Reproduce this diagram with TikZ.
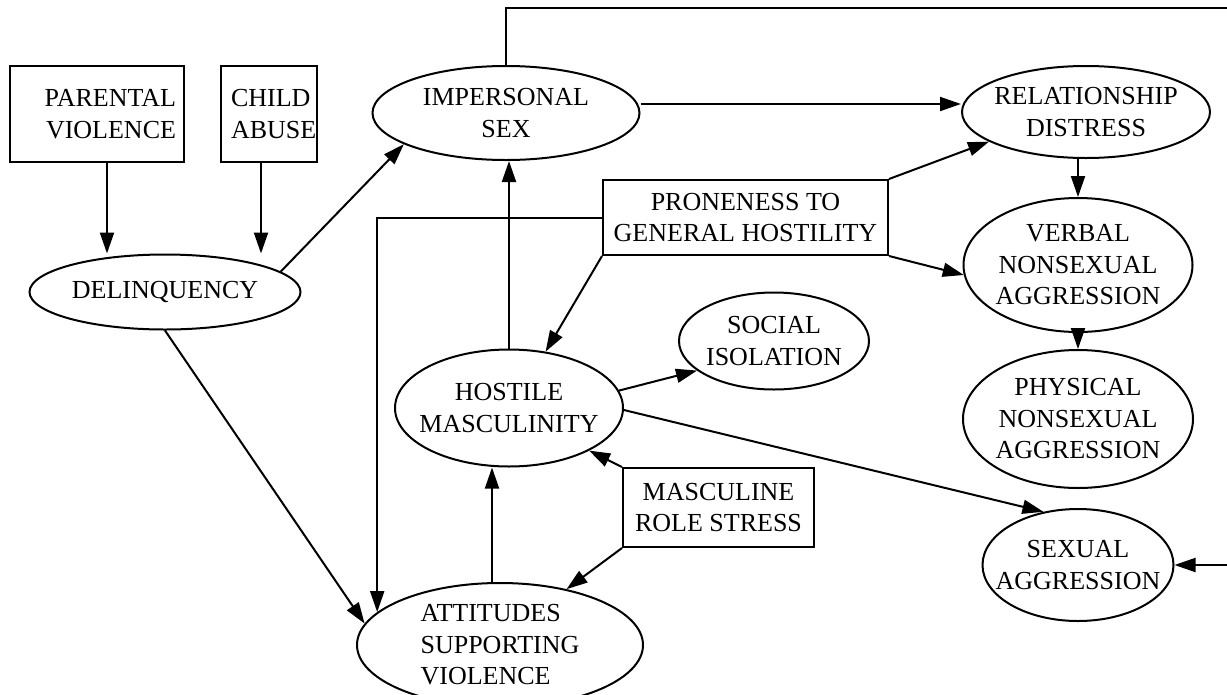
\documentclass[tikz,border=0pt]{standalone}
\usepackage{fontspec}
\setmainfont{Liberation Serif}
\usetikzlibrary{shapes.geometric,arrows.meta}

\begin{document}
\begin{tikzpicture}[x=1pt,y=-1pt,
  every node/.style={font=\fontsize{26}{31.5}\selectfont, line width=2pt},
  box/.style={draw, rectangle, inner sep=4pt, align=center},
  oval/.style={draw, ellipse, inner xsep=-20pt, inner ysep=-10pt, align=center},
  link/.style={draw, line width=2pt, -{Triangle[length=21pt,width=14pt]}}
]
\useasboundingbox[fill=white] (0,0) rectangle (1227,694);

% exogenous measures
\node[box, minimum width=174pt, minimum height=96pt, text width=158pt, inner xsep=8pt, align=right]
  (pv) at (97,114) {PARENTAL\\VIOLENCE};
\node[box, minimum width=96pt, minimum height=96pt, text width=86pt, inner xsep=5pt, align=left]
  (ca) at (269,114) {\hspace*{5pt}CHILD\\\hspace*{5pt}ABUSE};
\node[box, minimum width=285pt, minimum height=75pt] (pr) at (745.5,217.5) {PRONENESS TO\\GENERAL HOSTILITY};
\node[box, minimum width=191pt, minimum height=79pt] (mrs) at (718.5,507.5) {MASCULINE\\ROLE STRESS};

% latent constructs
\node[oval, minimum width=271pt, minimum height=75pt] (del) at (165,292) {DELINQUENCY};
\node[oval, minimum width=267pt, minimum height=94pt] (imp) at (506,113) {IMPERSONAL\\SEX};
\node[oval, minimum width=248pt, minimum height=92pt] (rel) at (1086,112) {RELATIONSHIP\\DISTRESS};
\node[oval, minimum width=229pt, minimum height=134pt] (verb) at (1078,265) {VERBAL\\NONSEXUAL\\AGGRESSION};
\node[oval, minimum width=190pt, minimum height=97pt] (soc) at (774,341) {SOCIAL\\ISOLATION};
\node[oval, minimum width=228pt, minimum height=117pt] (hm) at (509,408) {HOSTILE\\MASCULINITY};
\node[oval, minimum width=230pt, minimum height=138pt] (phys) at (1078,419) {PHYSICAL\\NONSEXUAL\\AGGRESSION};
\node[oval, minimum width=191pt, minimum height=112pt] (sex) at (1078,565) {SEXUAL\\AGGRESSION};
\node[oval, minimum width=286pt, minimum height=124pt, align=left] (att) at (500,645) {ATTITUDES\\SUPPORTING\\VIOLENCE};

% return path along the top and down the outside edge
\coordinate (topr) at (1240,8);

% paths
\draw[link] ([xshift=10pt]pv.south) -- ([xshift=10pt]pv.south |- del.north);
\draw[link] ([xshift=-8pt]ca.south) -- ([xshift=-8pt]ca.south |- del.north);
\draw[link] (del.10) -- (imp.197);
\draw[link] (del.south) -- (att.171);
\draw[link] (imp.north) |- (topr) |- (sex.east);
\draw[link] ([yshift=9pt]imp.east) -- ([yshift=9pt]imp.east -| rel.west);
\draw[link] (pr.north east) -- (rel.197);
\draw[link] (pr.south east) -- (verb.185);
\draw[link] (pr.south west) -- (hm.57);
\draw[link] (pr.west) -| (att.165);
\draw[link] (verb.north |- rel.south) -- (verb.north);
\draw[link] (verb.south) -- (phys.north);
\draw[link] (hm.north) -- (hm.north |- imp.south);
\draw[link] (hm.9) -- (soc.201);
\draw[link] (hm.-1) -- (sex.123);
\draw[link] (mrs.north west) -- (hm.-28);
\draw[link] (mrs.south west) -- (att.40);
\draw[link] ([xshift=-8pt]att.north) -- ([xshift=-8pt]att.north |- hm.south);
\end{tikzpicture}
\end{document}
